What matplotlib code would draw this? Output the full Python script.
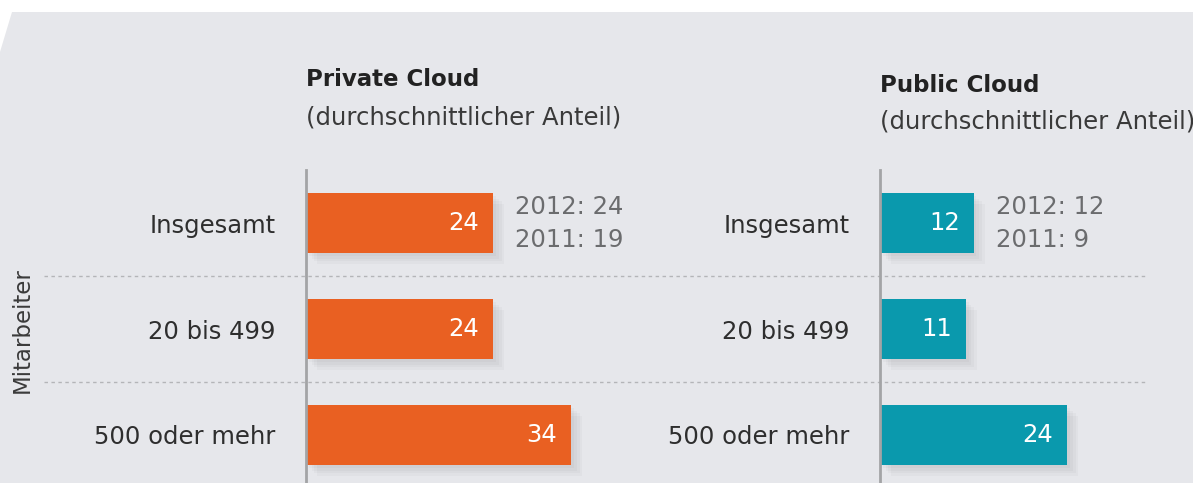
import matplotlib.pyplot as plt
import matplotlib.patheffects as pe
from matplotlib.patches import Polygon

plt.rcParams['font.family'] = ['DejaVu Sans']

# data
categories = ['Insgesamt', '20 bis 499', '500 oder mehr']
private_values = [24, 24, 34]
public_values = [12, 11, 24]
private_history = ['2012: 24', '2011: 19']
public_history = ['2012: 12', '2011: 9']

W, H = 1193, 483
bg = '#e6e7eb'
orange = '#e96022'
teal = '#0a99ad'
axis_grey = '#a3a4a6'
label_col = '#2e2e2e'
note_col = '#6b6c6e'
fs = 17.5

fig = plt.figure(figsize=(W / 100, H / 100), dpi=100)
fig.patch.set_facecolor('white')

# background panel in pixel coordinates
bg_ax = fig.add_axes([0, 0, 1, 1])
bg_ax.set_xlim(0, W)
bg_ax.set_ylim(H, 0)
bg_ax.axis('off')
bg_ax.add_patch(Polygon([(12, 12), (W, 12), (W, H), (0, H), (0, 52)],
                        closed=True, facecolor=bg, edgecolor='none'))
for yy in (276, 382):
    bg_ax.plot([44, 1148], [yy, yy], color='#b4b5b8', lw=1, ls=(0, (2.5, 2.5)))

# titles
fig.text(306 / W, 1 - 80 / H, 'Private Cloud', fontsize=16.5, fontweight='bold',
         color='#222222', va='center', ha='left')
fig.text(306 / W, 1 - 118 / H, '(durchschnittlicher Anteil)', fontsize=fs,
         color='#3a3a3a', va='center', ha='left')
fig.text(880 / W, 1 - 85 / H, 'Public Cloud', fontsize=16.5, fontweight='bold',
         color='#222222', va='center', ha='left')
fig.text(880 / W, 1 - 122 / H, '(durchschnittlicher Anteil)', fontsize=fs,
         color='#3a3a3a', va='center', ha='left')
fig.text(22 / W, 1 - 330 / H, 'Mitarbeiter', fontsize=16.5, rotation=90,
         color='#3a3a3a', va='center', ha='center')

px_per_unit = 7.8
row_px = 106
top_px, first_center = 170, 223


def panel(x0, values, color, history):
    width_px = 300
    ax = fig.add_axes([x0 / W, 0, width_px / W, 1 - top_px / H])
    ax.set_facecolor('none')
    y = list(range(len(values)))
    bars = ax.barh(y, values, height=60 / row_px, color=color, zorder=3)
    shadows = [pe.SimplePatchShadow(offset=(o, -o), shadow_rgbFace='k', alpha=0.025)
               for o in (8, 6, 4, 2)]
    for b in bars:
        b.set_path_effects(shadows + [pe.Normal()])
    ax.set_xlim(0, width_px / px_per_unit)
    ax.set_ylim((H - first_center) / row_px, (top_px - first_center) / row_px)
    ax.set_yticks(y)
    ax.set_yticklabels(categories, fontsize=fs, color=label_col)
    ax.tick_params(axis='y', length=0, pad=22)
    ax.set_xticks([])
    for s in ('top', 'right', 'bottom'):
        ax.spines[s].set_visible(False)
    ax.spines['left'].set_color(axis_grey)
    ax.spines['left'].set_linewidth(2)
    ax.spines['left'].set_zorder(4)
    for i, v in enumerate(values):
        ax.annotate(str(v), (v, i), xytext=(-14, 0), textcoords='offset pixels',
                    ha='right', va='center', color='white', fontsize=fs, zorder=5)
    for k, txt in enumerate(history):
        ax.annotate(txt, (values[0], 0), xytext=(22, 16 - 33 * k),
                    textcoords='offset pixels', ha='left', va='center',
                    color=note_col, fontsize=fs)
    return ax


panel(306, private_values, orange, private_history)
panel(880, public_values, teal, public_history)

fig.savefig('out.png', dpi=100, facecolor=fig.get_facecolor())
